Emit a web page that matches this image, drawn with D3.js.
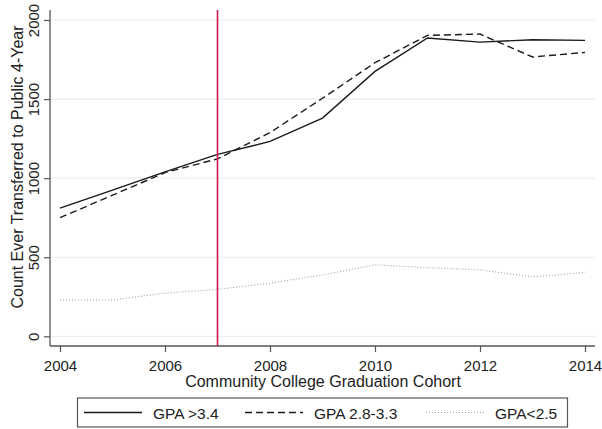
<!DOCTYPE html>
<html>
<head>
<meta charset="utf-8">
<script src="https://cdn.jsdelivr.net/npm/d3@7"></script>
<style>
  html, body { margin: 0; padding: 0; background: #fff; }
  svg { display: block; font-family: "Liberation Sans", Arial, sans-serif; }
</style>
</head>
<body>
<svg id="chart" width="602" height="429"></svg>
<script>
// cohorts and counts
const years = [2004, 2005, 2006, 2007, 2008, 2009, 2010, 2011, 2012, 2013, 2014];
const gpaHigh = [810, 924, 1040, 1150, 1232, 1380, 1675, 1886, 1860, 1875, 1871];
const gpaMid = [750, 892, 1035, 1122, 1288, 1505, 1730, 1903, 1911, 1766, 1795];
const gpaLow = [230, 230, 273, 297, 336, 388, 452, 434, 420, 376, 404];
const yTicks = [0, 500, 1000, 1500, 2000];
const xTicks = [2004, 2006, 2008, 2010, 2012, 2014];
const markerYear = 2007;

const series = [
  { name: "GPA >3.4", values: gpaHigh, stroke: "#1a1a1a", width: 1.4, dash: null },
  { name: "GPA 2.8-3.3", values: gpaMid, stroke: "#1a1a1a", width: 1.4, dash: "7,4" },
  { name: "GPA<2.5", values: gpaLow, stroke: "#a0a0a0", width: 1.1, dash: "1,2" }
];

const svg = d3.select("#chart");

// plot area
const plotLeft = 50, plotRight = 595, plotTop = 10, plotBottom = 346;

const x = d3.scaleLinear().domain([2004, 2014]).range([60, 585]);
const y = d3.scaleLinear().domain([0, 2000]).range([336.3, 20]);

// gridlines
svg.append("g")
  .selectAll("line")
  .data(yTicks)
  .enter().append("line")
  .attr("x1", plotLeft).attr("x2", plotRight)
  .attr("y1", d => y(d)).attr("y2", d => y(d))
  .attr("stroke", "#e8f0f3")
  .attr("stroke-width", 1.2);

// y axis
const yAxis = svg.append("g")
  .attr("transform", `translate(${plotLeft},0)`)
  .call(d3.axisLeft(y).tickValues(yTicks).tickSize(6).tickSizeOuter(0).tickFormat(d3.format("d")));
yAxis.select(".domain").remove();
yAxis.append("line")
  .attr("x1", 0).attr("x2", 0).attr("y1", plotTop).attr("y2", plotBottom)
  .attr("stroke", "#555").attr("stroke-width", 1.3);
yAxis.selectAll(".tick line").attr("stroke", "#555").attr("stroke-width", 1.2);
yAxis.selectAll(".tick text")
  .attr("x", 0).attr("dy", 0)
  .attr("transform", "translate(-11,0) rotate(-90)")
  .attr("text-anchor", "middle")
  .attr("fill", "#222")
  .style("font-size", "15px");

// x axis
const xAxis = svg.append("g")
  .attr("transform", `translate(0,${plotBottom})`)
  .call(d3.axisBottom(x).tickValues(xTicks).tickSize(6).tickSizeOuter(0).tickFormat(d3.format("d")));
xAxis.select(".domain").remove();
xAxis.append("line")
  .attr("x1", plotLeft).attr("x2", plotRight).attr("y1", 0).attr("y2", 0)
  .attr("stroke", "#555").attr("stroke-width", 1.3);
xAxis.selectAll(".tick line").attr("stroke", "#555").attr("stroke-width", 1.2);
xAxis.selectAll(".tick text")
  .attr("y", 14)
  .attr("fill", "#222")
  .style("font-size", "15px");

// axis titles
svg.append("text")
  .attr("x", 323).attr("y", 387)
  .attr("text-anchor", "middle")
  .attr("fill", "#222")
  .style("font-size", "16px")
  .text("Community College Graduation Cohort");

svg.append("text")
  .attr("transform", `translate(23,${167}) rotate(-90)`)
  .attr("text-anchor", "middle")
  .attr("fill", "#222")
  .style("font-size", "16px")
  .text("Count Ever Transferred to Public 4-Year");

// series lines
const line = d3.line()
  .x((d, i) => x(years[i]))
  .y(d => y(d));

svg.append("g")
  .selectAll("path")
  .data(series)
  .enter().append("path")
  .attr("fill", "none")
  .attr("stroke", d => d.stroke)
  .attr("stroke-width", d => d.width)
  .attr("stroke-dasharray", d => d.dash)
  .attr("d", d => line(d.values));

// marker year
svg.append("line")
  .attr("x1", x(markerYear)).attr("x2", x(markerYear))
  .attr("y1", plotTop).attr("y2", plotBottom)
  .attr("stroke", "#c8194a")
  .attr("stroke-width", 1.6);

// legend
const legend = svg.append("g");
legend.append("rect")
  .attr("x", 77.5).attr("y", 398)
  .attr("width", 490).attr("height", 29)
  .attr("fill", "#fff")
  .attr("stroke", "#555")
  .attr("stroke-width", 1.2);

const legendX = [84, 245, 426];
series.forEach((s, i) => {
  legend.append("line")
    .attr("x1", legendX[i]).attr("x2", legendX[i] + 58)
    .attr("y1", 412.5).attr("y2", 412.5)
    .attr("stroke", s.stroke)
    .attr("stroke-width", s.width)
    .attr("stroke-dasharray", s.dash);
  legend.append("text")
    .attr("x", legendX[i] + 69).attr("y", 418.5)
    .attr("fill", "#222")
    .style("font-size", "15.5px")
    .text(s.name);
});
</script>
</body>
</html>
